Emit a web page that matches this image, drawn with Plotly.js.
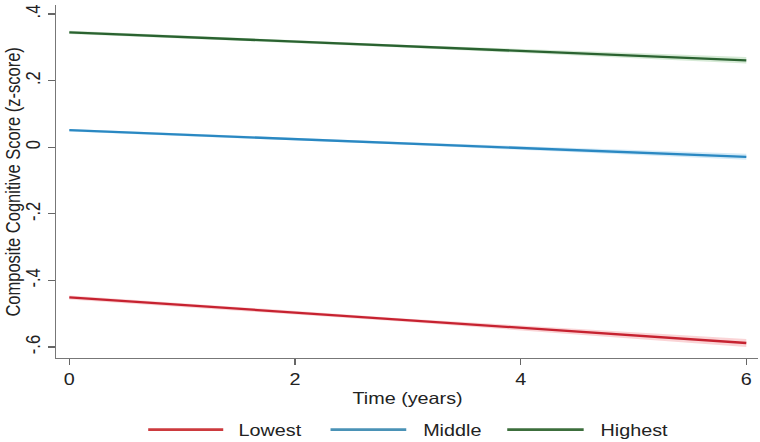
<!DOCTYPE html>
<html>
<head>
<meta charset="utf-8">
<script src="https://cdn.plot.ly/plotly-3.0.1.min.js"></script>
<style>
html,body{margin:0;padding:0;background:#fff;overflow:hidden}
#chart{width:634px;height:442px;transform:scaleX(1.1987);transform-origin:0 0}
</style>
</head>
<body>
<div id="chart"></div>
<script>
var time = [0, 3, 6];
var seriesNames = ["Lowest", "Middle", "Highest"];
var lowestMean = [-0.451, -0.520, -0.588];
var lowestLo = [-0.457, -0.525, -0.600];
var lowestHi = [-0.445, -0.515, -0.576];
var middleMean = [0.051, 0.011, -0.029];
var middleLo = [0.047, 0.007, -0.038];
var middleHi = [0.055, 0.015, -0.020];
var highestMean = [0.345, 0.303, 0.261];
var highestLo = [0.340, 0.299, 0.251];
var highestHi = [0.350, 0.307, 0.271];
var yTickVals = [-0.6, -0.4, -0.2, 0, 0.2, 0.4];
var yTickText = ["-.6", "-.4", "-.2", "0", ".2", ".4"];
var xTickVals = [0, 2, 4, 6];

var lineColors = ["#c62230", "#2a88c2", "#2a6230"];
var bandColors = ["rgba(230,60,70,0.22)", "rgba(60,160,220,0.22)", "rgba(70,160,70,0.22)"];
var means = [lowestMean, middleMean, highestMean];
var los = [lowestLo, middleLo, highestLo];
var his = [lowestHi, middleHi, highestHi];

var traces = [];
for (var i = 0; i < 3; i++) {
  traces.push({x: time, y: los[i], mode: "lines", line: {width: 0, color: bandColors[i]}, showlegend: false, hoverinfo: "skip"});
  traces.push({x: time, y: his[i], mode: "lines", fill: "tonexty", fillcolor: bandColors[i], line: {width: 0, color: bandColors[i]}, showlegend: false, hoverinfo: "skip"});
  traces.push({x: time, y: means[i], mode: "lines", name: seriesNames[i], line: {width: 2.3, color: lineColors[i]}, showlegend: false});
}

// manual legend (longer line samples, as in reference)
var legendX = [[0.131, 0.238, 0.257], [0.391, 0.499, 0.519], [0.643, 0.752, 0.773]];
var legendLineColors = ["#cc3a3e", "#4a92b6", "#3c6e3c"];
var legY = -0.203;
var shapes = [], annotations = [];
for (var j = 0; j < 3; j++) {
  shapes.push({type: "line", xref: "paper", yref: "paper", x0: legendX[j][0], x1: legendX[j][1], y0: legY, y1: legY, line: {color: legendLineColors[j], width: 2.6}});
  annotations.push({xref: "paper", yref: "paper", x: legendX[j][2], y: legY, xanchor: "left", yanchor: "middle", text: seriesNames[j], showarrow: false, font: {size: 16.5, color: "#222"}});
}
annotations.push({xref: "paper", yref: "paper", x: -0.063, y: 0.5, xanchor: "center", yanchor: "middle", textangle: -90, text: "Composite Cognitive Score (z-score)", showarrow: false, font: {size: 16.5, color: "#222"}});
annotations.push({xref: "paper", yref: "paper", x: 0.5, y: -0.113, xanchor: "center", yanchor: "middle", text: "Time (years)", showarrow: false, font: {size: 16.5, color: "#222"}});

var layout = {
  width: 634, height: 442,
  margin: {l: 47, r: 2, t: 5, b: 84},
  paper_bgcolor: "#fff", plot_bgcolor: "#fff",
  font: {family: "Liberation Sans, Arial, sans-serif", size: 16.5, color: "#222"},
  showlegend: false,
  xaxis: {range: [-0.115, 6.1], tickvals: xTickVals, ticks: "outside", ticklen: 6, tickwidth: 1.2, tickcolor: "#666",
    showline: true, linecolor: "#777", linewidth: 1.4, showgrid: false, zeroline: false, tickfont: {size: 16.5}},
  yaxis: {range: [-0.633, 0.427], tickvals: yTickVals, ticktext: yTickText, tickangle: -90, ticks: "outside", ticklen: 6, tickwidth: 1.2, tickcolor: "#666",
    showline: true, linecolor: "#777", linewidth: 1.3, showgrid: false, zeroline: false, tickfont: {size: 16.5}},
  shapes: shapes,
  annotations: annotations
};
Plotly.newPlot("chart", traces, layout, {staticPlot: true, displayModeBar: false});
</script>
</body>
</html>
